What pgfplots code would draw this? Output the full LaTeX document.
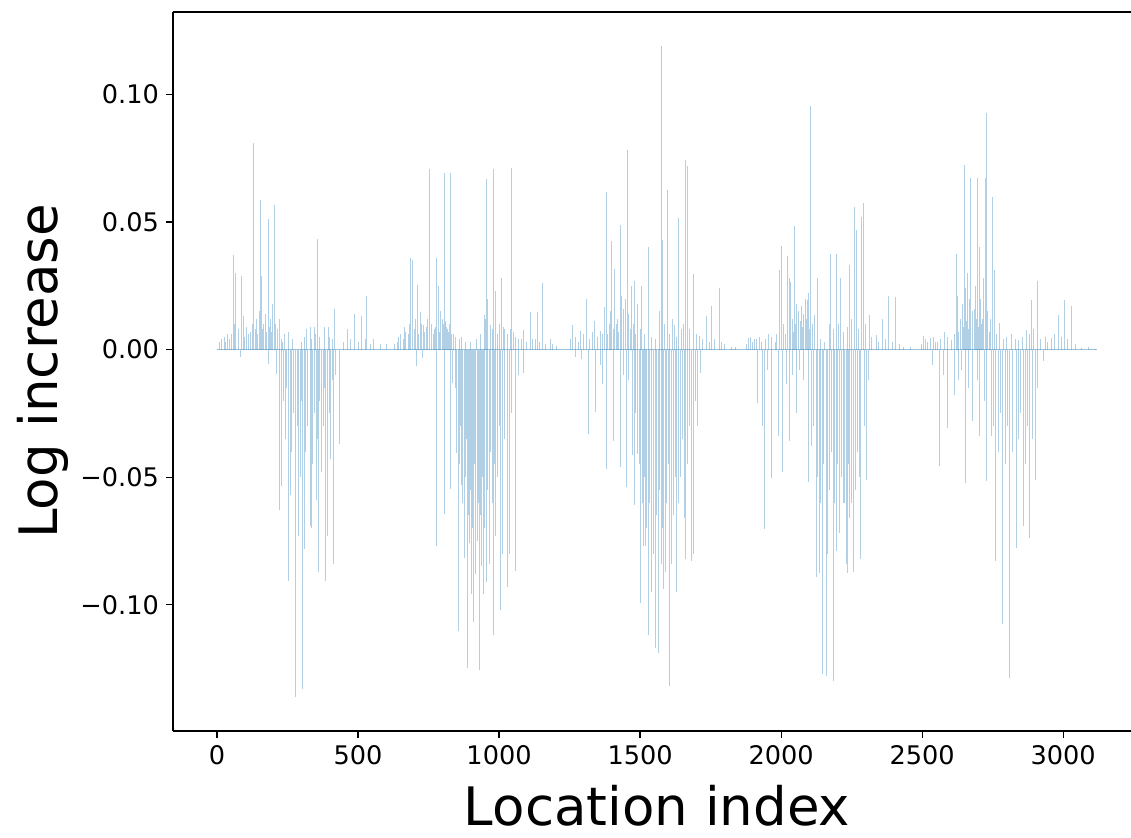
\documentclass[border=0pt]{standalone}
\usepackage{pgfplots}
\pgfplotsset{compat=1.18}
\usepackage{fontspec}
\setmainfont{DejaVu Sans}
\definecolor{mplblue}{HTML}{1F77B4}
\pgfplotsset{spike/.style={ycomb, mark=none, draw=mplblue, draw opacity=0.35, line width=0.5pt}}

\begin{document}
\begin{tikzpicture}
\begin{axis}[
    scale only axis,
    width=484pt, height=359.5pt,
    xmin=-156, xmax=3276,
    ymin=-0.1495, ymax=0.1323,
    axis lines*=left,
    xtick={0,500,1000,1500,2000,2500,3000},
    ytick={-0.1,-0.05,0,0.05,0.1},
    yticklabels={−0.10,−0.05,0.00,0.05,0.10},
    /pgf/number format/assume math mode=true,
    /pgf/number format/1000 sep={},
    tick align=outside,
    major tick length=3.5pt,
    tick style={black, line width=0.6pt},
    axis line style={black, line width=0.8pt},
    tick label style={font=\fontsize{12.8}{15}\selectfont},
    label style={font=\fontsize{26.5}{30}\selectfont},
    xlabel={Location index},
    ylabel={Log increase},
    xlabel style={at={(axis description cs:0.5,-0.131)}, anchor=base},
    ylabel style={at={(axis description cs:-0.1198,0.5)}, anchor=base},
]
\coordinate (sw) at (rel axis cs:0,0);
\coordinate (nw) at (rel axis cs:0,1);
\coordinate (ne) at (rel axis cs:1,1);

% zero baseline
\addplot[mark=none, draw=mplblue, draw opacity=0.45, line width=0.6pt] coordinates {(0,0)(3120,0)};

% cycle 1
\addplot[spike] coordinates {
(17,0.004)(37,0.006)(60,0.037)(67,0.030)(86,0.029)(93,0.013)(105,0.009)(130,0.081)(155,0.0587)(158,0.029)
(181,0.051)(205,0.0567)(255,0.007)(318,0.008)(330,0.009)(344,0.009)(355,0.0434)(380,0.009)(394,0.009)(418,0.016)
(461,0.008)(486,0.014)(511,0.013)(531,0.021)(554,0.004)(578,0.002)
(82,-0.003)(182,-0.0055)(212,-0.0095)(223,-0.063)(229,-0.0535)(253,-0.0906)(259,-0.057)(280,-0.136)(289,-0.073)
(304,-0.133)(310,-0.078)(330,-0.069)(335,-0.070)(352,-0.059)(361,-0.087)(371,-0.048)(386,-0.0906)(392,-0.073)
(413,-0.084)(404,-0.043)(436,-0.037)
(10,0.003)(25,0.005)(45,0.004)(52,0.006)(75,0.008)(112,0.006)(125,0.010)(140,0.012)(150,0.015)(165,0.010)
(172,0.014)(190,0.012)(198,0.018)(215,0.008)(222,0.012)(240,0.006)(268,0.004)(300,0.003)(310,0.005)(335,0.004)
(350,0.006)(365,0.005)(400,0.005)(410,0.004)(450,0.003)(475,0.004)(500,0.003)(525,0.004)(545,0.002)(600,0.002)
(235,-0.020)(242,-0.035)(248,-0.015)(265,-0.040)(272,-0.025)(285,-0.030)(295,-0.050)(300,-0.020)(315,-0.040)
(320,-0.030)(340,-0.045)(345,-0.025)(358,-0.035)(365,-0.020)(376,-0.030)(380,-0.015)(398,-0.025)(408,-0.012)
(420,-0.010)(245,-0.003)
(30,0.003)(57,0.004)(63,0.010)(98,0.005)(118,0.007)(135,0.008)(145,0.006)(160,0.008)(177,0.007)(185,0.009)
(195,0.007)(208,0.010)(228,0.004)(233,0.003)
};

% cycle 2
\addplot[spike] coordinates {
(631,0.0023)(643,0.005)(663,0.009)(687,0.036)(693,0.035)(712,0.0254)(720,0.0148)(732,0.0095)(741,0.009)(755,0.0709)
(779,0.036)(785,0.025)(805,0.069)(810,0.011)(829,0.069)(838,0.006)(868,0.005)(947,0.0135)(956,0.0669)(968,0.0096)
(980,0.0709)(989,0.0228)(1009,0.0281)(1021,0.008)(1043,0.0712)(1051,0.007)(1069,0.004)(1086,0.0077)(1110,0.0149)
(1130,0.004)(1136,0.0149)(1155,0.026)(1181,0.004)(1205,0.0015)
(706,-0.0063)(729,-0.0035)(779,-0.077)(805,-0.0645)(829,-0.0545)(836,-0.013)(850,-0.0406)(856,-0.1105)(868,-0.053)
(876,-0.0816)(888,-0.125)(895,-0.076)(903,-0.096)(911,-0.1066)(918,-0.088)(930,-0.1257)(938,-0.085)(946,-0.096)
(956,-0.091)(966,-0.084)(980,-0.112)(989,-0.073)(1006,-0.102)(1013,-0.080)(1029,-0.093)(1036,-0.080)(1060,-0.0867)
(1057,-0.057)(1086,-0.009)
(640,0.003)(652,0.006)(670,0.007)(700,0.008)(705,0.012)(725,0.010)(748,0.012)(762,0.010)(770,0.008)(792,0.015)
(798,0.012)(815,0.009)(822,0.007)(845,0.005)(860,0.004)(880,0.003)(900,0.003)(920,0.004)(935,0.006)(952,0.012)
(960,0.020)(975,0.008)(995,0.006)(1000,0.010)(1015,0.009)(1030,0.006)(1040,0.008)(1060,0.005)(1078,0.004)
(1098,0.003)(1120,0.004)(1145,0.003)(1165,0.002)(1190,0.002)
(845,-0.015)(860,-0.045)(864,-0.030)(872,-0.060)(880,-0.050)(884,-0.035)(892,-0.065)(899,-0.055)(907,-0.070)
(914,-0.045)(922,-0.075)(926,-0.060)(934,-0.065)(942,-0.050)(950,-0.070)(960,-0.055)(970,-0.040)(975,-0.060)
(985,-0.045)(995,-0.050)(1000,-0.030)(1020,-0.035)(1045,-0.025)(1070,-0.010)
(660,0.004)(678,0.006)(683,0.010)(715,0.006)(737,0.007)(752,0.008)(766,0.006)(775,0.009)(788,0.007)(802,0.010)
(818,0.008)(826,0.010)(833,0.006)
};

% cycle 3
\addplot[spike] coordinates {
(1260,0.0098)(1287,0.0072)(1311,0.020)(1337,0.0113)(1358,0.0072)(1373,0.0166)(1381,0.0616)(1400,0.0424)(1411,0.0317)
(1429,0.049)(1435,0.021)(1455,0.0782)(1468,0.025)(1480,0.027)(1492,0.018)(1506,0.025)(1530,0.040)(1575,0.1191)
(1579,0.043)(1598,0.0625)(1622,0.0098)(1636,0.0516)(1648,0.008)(1662,0.0742)(1669,0.072)(1691,0.0295)(1710,0.0055)
(1736,0.013)(1754,0.017)(1780,0.024)(1801,0.002)(1825,0.001)
(1292,-0.0036)(1317,-0.033)(1343,-0.0245)(1366,-0.0137)(1381,-0.047)(1405,-0.036)(1429,-0.046)(1453,-0.054)
(1474,-0.0415)(1480,-0.061)(1492,-0.041)(1503,-0.0995)(1511,-0.077)(1519,-0.077)(1530,-0.112)(1542,-0.095)
(1553,-0.117)(1565,-0.1188)(1575,-0.084)(1583,-0.094)(1589,-0.087)(1606,-0.132)(1612,-0.084)(1630,-0.095)
(1642,-0.050)(1657,-0.066)(1662,-0.082)(1683,-0.083)(1688,-0.080)(1705,-0.030)(1713,-0.009)
(1252,0.004)(1270,0.005)(1280,0.003)(1300,0.006)(1320,0.004)(1330,0.007)(1350,0.005)(1365,0.006)(1390,0.010)
(1395,0.015)(1420,0.012)(1440,0.016)(1447,0.020)(1460,0.014)(1475,0.010)(1500,0.008)(1515,0.006)(1540,0.005)
(1555,0.004)(1568,0.015)(1585,0.010)(1605,0.006)(1615,0.012)(1628,0.005)(1655,0.010)(1675,0.008)(1700,0.006)
(1720,0.004)(1745,0.003)(1765,0.004)(1790,0.003)(1840,0.001)
(1485,-0.025)(1497,-0.045)(1507,-0.060)(1515,-0.050)(1524,-0.070)(1535,-0.060)(1547,-0.080)(1558,-0.065)
(1570,-0.055)(1578,-0.070)(1595,-0.060)(1600,-0.045)(1618,-0.065)(1625,-0.050)(1637,-0.060)(1650,-0.035)
(1668,-0.045)(1675,-0.030)(1695,-0.020)(1270,-0.003)(1360,-0.006)(1440,-0.010)(1460,-0.012)
(1385,0.006)(1407,0.008)(1415,0.010)(1425,0.007)(1432,0.011)(1450,0.009)(1458,0.012)(1465,0.008)(1485,0.006)
};

% cycle 4
\addplot[spike] coordinates {
(1884,0.0047)(1905,0.004)(1931,0.003)(1957,0.006)(1979,0.003)(1996,0.031)(2003,0.0406)(2024,0.0365)(2030,0.028)
(2035,0.0265)(2047,0.0485)(2061,0.015)(2067,0.0112)(2073,0.0172)(2093,0.0195)(2104,0.0956)(2117,0.0134)(2129,0.028)
(2174,0.0373)(2197,0.0373)(2211,0.028)(2242,0.033)(2260,0.056)(2266,0.047)(2286,0.052)(2292,0.0574)(2312,0.0136)
(2337,0.0057)(2361,0.012)(2381,0.021)(2404,0.0207)(2434,0.001)
(1916,-0.021)(1940,-0.0703)(1935,-0.030)(1967,-0.0502)(1991,-0.034)(2005,-0.048)(2020,-0.0137)(2030,-0.036)
(2054,-0.025)(2080,-0.012)(2097,-0.052)(2109,-0.038)(2124,-0.0891)(2136,-0.0876)(2148,-0.127)(2160,-0.128)
(2164,-0.080)(2186,-0.130)(2195,-0.079)(2207,-0.072)(2221,-0.060)(2231,-0.084)(2236,-0.0876)(2256,-0.087)
(2244,-0.066)(2283,-0.082)(2304,-0.051)(2310,-0.012)
(1878,0.002)(1890,0.005)(1898,0.003)(1912,0.004)(1925,0.005)(1945,0.004)(1965,0.005)(1985,0.006)(2010,0.010)
(2040,0.012)(2055,0.018)(2080,0.014)(2085,0.020)(2098,0.022)(2110,0.010)(2140,0.004)(2155,0.003)(2170,0.010)
(2185,0.008)(2205,0.010)(2220,0.007)(2235,0.009)(2250,0.012)(2275,0.008)(2300,0.010)(2320,0.005)(2345,0.003)
(2370,0.004)(2395,0.003)(2420,0.002)(2460,0.001)
(2115,-0.030)(2128,-0.050)(2140,-0.060)(2152,-0.045)(2170,-0.055)(2178,-0.040)(2190,-0.060)(2200,-0.045)
(2215,-0.050)(2226,-0.060)(2240,-0.045)(2250,-0.060)(2262,-0.055)(2270,-0.040)(2278,-0.050)(2295,-0.030)
(1950,-0.008)(2040,-0.010)(2065,-0.008)
(2015,0.006)(2045,0.007)(2050,0.010)(2060,0.008)(2070,0.011)(2077,0.009)(2090,0.012)(2102,0.008)
};

% cycle 5
\addplot[spike] coordinates {
(2505,0.0052)(2529,0.0045)(2555,0.003)(2579,0.0067)(2605,0.0037)(2623,0.0373)(2626,0.021)(2649,0.0724)(2652,0.024)
(2661,0.030)(2673,0.0672)(2686,0.016)(2697,0.0672)(2703,0.040)(2715,0.012)(2723,0.0672)(2729,0.0926)(2738,0.007)
(2749,0.0598)(2755,0.031)(2774,0.0105)(2818,0.006)(2842,0.0037)(2871,0.0075)(2887,0.0196)(2910,0.027)(2936,0.005)
(2960,0.0046)(2984,0.0134)(3004,0.0196)(3031,0.0171)(3066,0.0005)(3113,0.0002)
(2537,-0.006)(2560,-0.0457)(2590,-0.0307)(2614,-0.018)(2628,-0.012)(2655,-0.0523)(2680,-0.028)(2703,-0.034)
(2729,-0.0516)(2746,-0.034)(2759,-0.083)(2785,-0.1077)(2810,-0.1287)(2833,-0.0777)(2859,-0.069)(2879,-0.074)
(2903,-0.051)(2930,-0.0045)
(2498,0.002)(2512,0.004)(2520,0.003)(2540,0.005)(2548,0.003)(2565,0.004)(2590,0.005)(2615,0.006)(2635,0.012)
(2642,0.018)(2668,0.020)(2680,0.015)(2690,0.025)(2708,0.020)(2718,0.028)(2733,0.015)(2742,0.012)(2762,0.006)
(2790,0.004)(2800,0.005)(2830,0.004)(2855,0.005)(2880,0.006)(2895,0.008)(2920,0.004)(2945,0.003)(2970,0.006)
(2995,0.005)(3015,0.004)(3045,0.002)(3090,0.001)
(2575,-0.010)(2640,-0.008)(2665,-0.015)(2695,-0.012)(2720,-0.020)(2752,-0.030)(2770,-0.040)(2778,-0.025)
(2795,-0.045)(2803,-0.030)(2820,-0.040)(2840,-0.035)(2850,-0.025)(2865,-0.045)(2872,-0.030)(2890,-0.035)(2910,-0.015)
(2630,0.007)(2646,0.009)(2657,0.011)(2664,0.008)(2677,0.010)(2694,0.012)(2700,0.009)(2712,0.010)(2726,0.012)
};
\end{axis}
\draw[black, line width=0.8pt] (nw) -- (ne);
\pgfresetboundingbox
\useasboundingbox ([shift={(-86.5pt,-53.5pt)}]sw) rectangle ([shift={(479pt,365.5pt)}]sw);
\end{tikzpicture}
\end{document}
